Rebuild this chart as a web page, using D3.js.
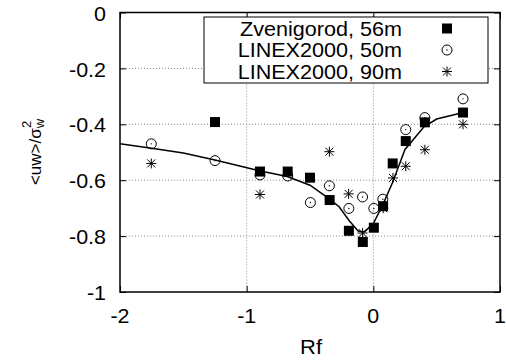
<!DOCTYPE html>
<html><head><meta charset="utf-8">
<script src="https://cdn.jsdelivr.net/npm/d3@7"></script>
<style>html,body{margin:0;padding:0;background:#fff;}svg{display:block;}text{font-family:"Liberation Sans",Arial,Helvetica,sans-serif;fill:#000;}</style>
</head><body>
<svg id="chart" width="506" height="360"></svg>
<script>
// ---- data ----
const zvenX = [-1.25,-0.895,-0.676,-0.5,-0.345,-0.193,-0.083,0.004,0.077,0.153,0.256,0.407,0.708];
const zvenY = [-0.392,-0.569,-0.569,-0.591,-0.671,-0.781,-0.821,-0.770,-0.693,-0.540,-0.460,-0.393,-0.358];
const l50X = [-1.753,-1.25,-0.895,-0.676,-0.497,-0.347,-0.193,-0.085,0.004,0.075,0.256,0.407,0.708];
const l50Y = [-0.470,-0.530,-0.581,-0.585,-0.680,-0.620,-0.701,-0.660,-0.701,-0.668,-0.419,-0.376,-0.309];
const l90X = [-1.753,-0.895,-0.347,-0.195,-0.085,0.078,0.155,0.256,0.407,0.708];
const l90Y = [-0.540,-0.651,-0.498,-0.649,-0.789,-0.700,-0.592,-0.550,-0.491,-0.400];
const lineX = [-2,-1.75,-1.5,-1.25,-0.9,-0.68,-0.5,-0.35,-0.27,-0.19,-0.12,-0.07,0,0.08,0.15,0.25,0.4,0.5,0.71];
const lineY = [-0.470,-0.486,-0.503,-0.528,-0.566,-0.587,-0.618,-0.666,-0.695,-0.745,-0.782,-0.785,-0.755,-0.683,-0.610,-0.490,-0.409,-0.381,-0.358];
const xTicks = [-2,-1,0,1];
const yTicks = [0,-0.2,-0.4,-0.6,-0.8,-1];
const legendLabels = ["Zvenigorod, 56m","LINEX2000, 50m","LINEX2000, 90m"];

const svg = d3.select("#chart");
const L = 120, R = 500, T = 12.5, B = 292;
const x = d3.scaleLinear().domain([-2,1]).range([L,R]);
const y = d3.scaleLinear().domain([-1,0]).range([B,T]);
const SX = 1.1;

function label(g, px, py, txt, size, anchor, sx){
  const gg = g.append("g").attr("transform",`translate(${px},${py}) scale(${sx||SX},1)`);
  return gg.append("text").attr("font-size",size).attr("text-anchor",anchor||"middle")
    .attr("dominant-baseline","central").text(txt);
}

// grid
const grid = svg.append("g");
yTicks.filter(v=>v>-1&&v<0).forEach(v=>{
  grid.append("line").attr("x1",L).attr("x2",R).attr("y1",y(v)).attr("y2",y(v))
    .attr("stroke","#888").attr("stroke-width",1).attr("stroke-dasharray","1,2");
});
xTicks.filter(v=>v>-2&&v<1).forEach(v=>{
  grid.append("line").attr("x1",x(v)).attr("x2",x(v)).attr("y1",T).attr("y2",B)
    .attr("stroke","#888").attr("stroke-width",1).attr("stroke-dasharray","1,2");
});

// ticks via axes (inward)
svg.append("g").attr("transform",`translate(${L},0)`)
  .call(d3.axisRight(y).tickValues(yTicks).tickSize(6).tickFormat(""))
  .call(g=>g.select(".domain").remove());
svg.append("g").attr("transform",`translate(${R},0)`)
  .call(d3.axisLeft(y).tickValues(yTicks).tickSize(6).tickFormat(""))
  .call(g=>g.select(".domain").remove());
svg.append("g").attr("transform",`translate(0,${B})`)
  .call(d3.axisTop(x).tickValues(xTicks).tickSize(6).tickFormat(""))
  .call(g=>g.select(".domain").remove());
svg.append("g").attr("transform",`translate(0,${T})`)
  .call(d3.axisBottom(x).tickValues(xTicks).tickSize(6).tickFormat(""))
  .call(g=>g.select(".domain").remove());

// tick labels (plain hyphen-minus as in the reference)
yTicks.forEach(v=>label(svg, 106, y(v)+1, String(v), 19.5, "end"));
xTicks.forEach(v=>label(svg, x(v), 316, String(v), 19.5, "middle"));

// axis titles
label(svg, 311, 347, "Rf", 20, "middle");
const yl = svg.append("g").attr("transform","translate(35,152) rotate(-90)");
const yt = yl.append("text").attr("font-size",17).attr("text-anchor","middle").attr("dominant-baseline","central");
yt.append("tspan").text("<uw>/σ");
yt.append("tspan").attr("font-size",13).attr("dy",4).text("w");
yt.append("tspan").attr("font-size",13).attr("dx",-9).attr("dy",-13).text("2");

// fit line
const lineData = lineX.map((v,i)=>[v,lineY[i]]);
svg.append("path").datum(lineData)
  .attr("d", d3.line().x(d=>x(d[0])).y(d=>y(d[1])))
  .attr("fill","none").attr("stroke","#000").attr("stroke-width",1.5);

// markers
function square(g,cx,cy){ g.append("rect").attr("x",cx-5).attr("y",cy-5).attr("width",10).attr("height",10).attr("fill","#000"); }
function circ(g,cx,cy){
  g.append("circle").attr("cx",cx).attr("cy",cy).attr("r",5).attr("fill","none").attr("stroke","#000").attr("stroke-width",1);
  g.append("circle").attr("cx",cx).attr("cy",cy).attr("r",0.7).attr("fill","#000");
}
function star(g,cx,cy){
  const s=5, d=4;
  const p = `M${cx-s},${cy}L${cx+s},${cy}M${cx},${cy-s}L${cx},${cy+s}M${cx-d},${cy-d}L${cx+d},${cy+d}M${cx-d},${cy+d}L${cx+d},${cy-d}`;
  g.append("path").attr("d",p).attr("stroke","#000").attr("stroke-width",1).attr("fill","none");
}
const m = svg.append("g");
l90X.forEach((v,i)=>star(m,x(v),y(l90Y[i])));
l50X.forEach((v,i)=>circ(m,x(v),y(l50Y[i])));
zvenX.forEach((v,i)=>square(m,x(v),y(zvenY[i])));

// legend
const lg = svg.append("g");
lg.append("rect").attr("x",204).attr("y",17).attr("width",284).attr("height",66)
  .attr("fill","#fff").attr("stroke","#000").attr("stroke-width",1);
const rowY = [28.5,50,71.5];
const markFns = [square,circ,star];
legendLabels.forEach((t,i)=>{
  label(lg, 402, rowY[i], t, 20, "end", 1.08);
  markFns[i](lg, 447, rowY[i]);
});

// frame
svg.append("rect").attr("x",L).attr("y",T).attr("width",R-L).attr("height",B-T)
  .attr("fill","none").attr("stroke","#000").attr("stroke-width",1.5);
</script>
</body></html>
